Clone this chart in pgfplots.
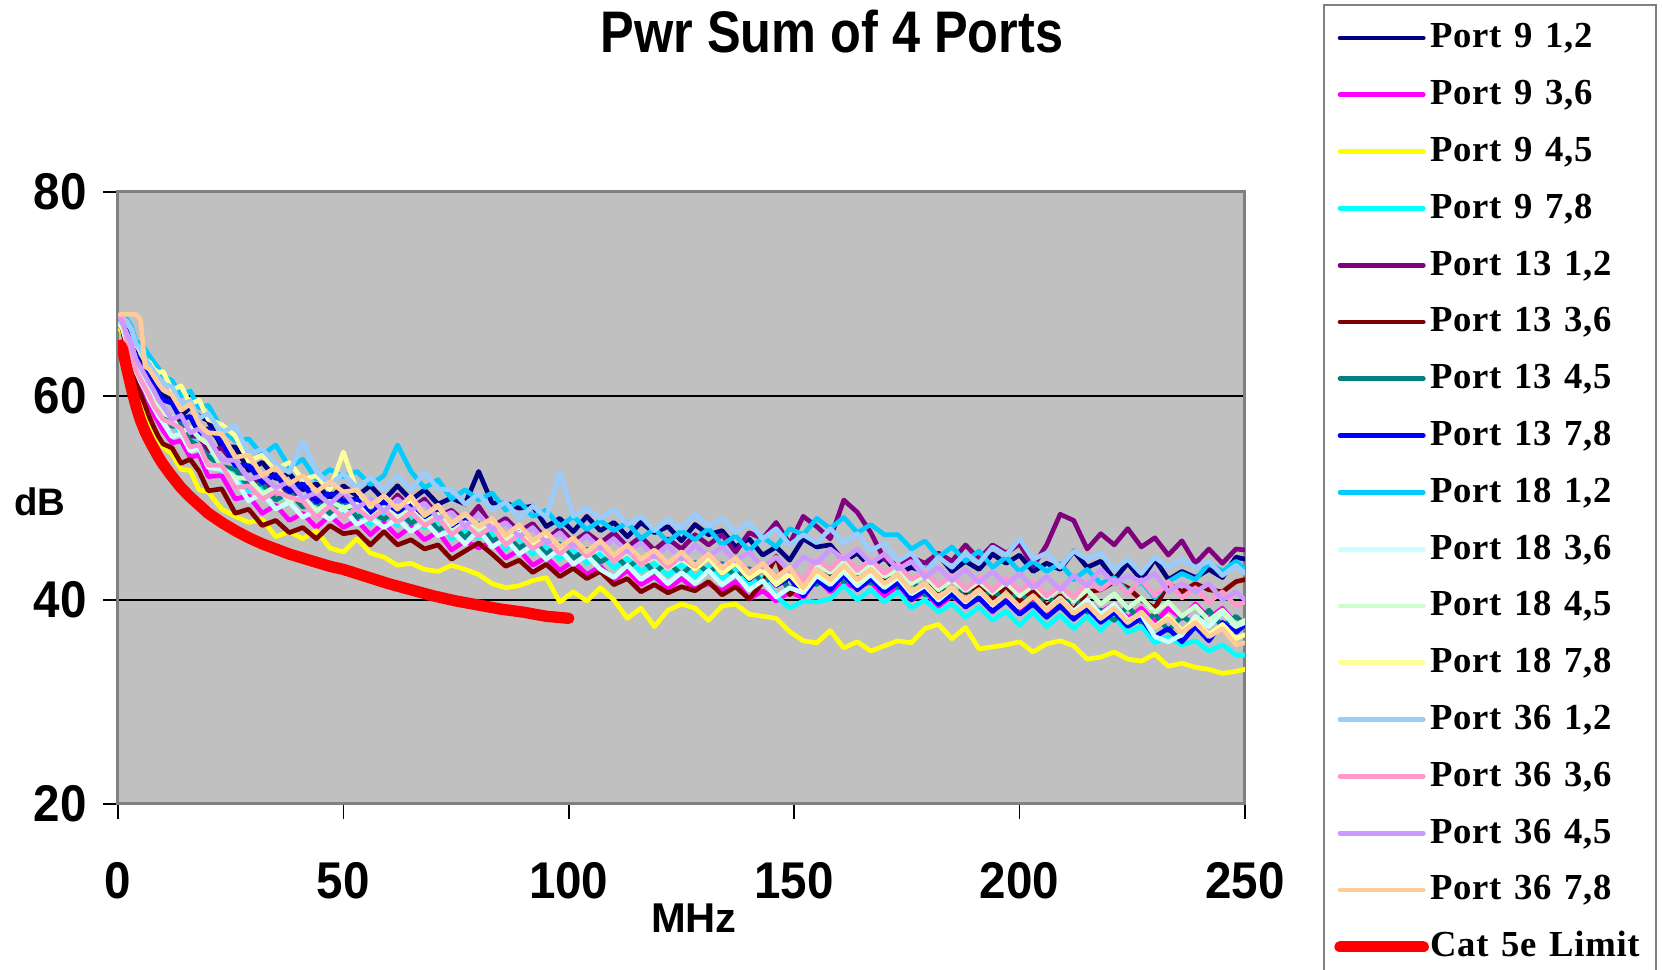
\documentclass[border=0pt]{standalone}
\usepackage{fontspec}
\usepackage{pgfplots}
\pgfplotsset{compat=1.18}
\usepackage{pgfplotstable}
\setmainfont{Liberation Sans}
\newfontfamily\axfont{Liberation Sans}[FakeStretch=0.92]
\newfontfamily\titfont{Liberation Sans}[FakeStretch=0.86]
\newfontfamily\legfont{Liberation Serif}[LetterSpace=2]
\newcommand{\gp}{\hspace{3.8pt}}
\newcommand{\legsh}{\hspace*{-0.5pt}}
\definecolor{plotgray}{HTML}{C0C0C0}
\definecolor{bordergray}{HTML}{808080}
\definecolor{sA}{HTML}{000080}
\definecolor{sB}{HTML}{FF00FF}
\definecolor{sC}{HTML}{FFFF00}
\definecolor{sD}{HTML}{00FFFF}
\definecolor{sE}{HTML}{800080}
\definecolor{sF}{HTML}{800000}
\definecolor{sG}{HTML}{008080}
\definecolor{sH}{HTML}{0000FF}
\definecolor{sI}{HTML}{00CCFF}
\definecolor{sJ}{HTML}{CCFFFF}
\definecolor{sK}{HTML}{CCFFCC}
\definecolor{sL}{HTML}{FFFF99}
\definecolor{sM}{HTML}{99CCFF}
\definecolor{sN}{HTML}{FF99CC}
\definecolor{sO}{HTML}{CC99FF}
\definecolor{sP}{HTML}{FFCC99}
\definecolor{sR}{HTML}{FF0000}

\pgfplotstableread{
x a b c d e f g h i j k l m n o p
0.5 67.5 66.8 66.5 67.1 67.2 67.0 67.2 67.4 67.9 66.9 67.2 67.8 67.8 67.7 67.5 68.0
1 67.3 66.4 66.2 66.8 67.0 66.5 66.9 67.2 67.9 66.6 66.9 67.7 67.7 67.6 67.1 68.0
2 66.5 64.8 64.2 65.5 65.9 64.1 65.7 66.3 67.5 65.1 65.7 67.2 67.3 65.4 66.1 68.0
3 65.6 63.4 62.6 64.4 64.8 62.7 64.6 65.3 66.8 63.9 64.6 66.5 66.5 64.2 65.1 68.0
4 64.0 62.0 60.8 62.8 63.2 61.2 63.1 63.9 65.3 62.4 63.0 65.0 65.1 62.5 63.6 68.0
5 63.2 61.2 59.6 62.1 62.3 60.2 62.0 63.0 65.2 61.4 62.1 64.4 64.6 61.6 62.8 67.5
6 62.6 60.0 58.6 61.3 61.7 59.1 61.4 62.4 64.6 60.6 61.5 63.6 63.7 60.8 62.0 62.9
7 61.8 59.2 57.5 60.3 60.7 57.9 60.6 61.6 63.9 59.6 60.4 63.3 63.1 60.0 61.2 62.6
8 61.1 58.1 56.6 59.2 60.2 56.9 59.8 61.0 63.3 58.8 59.7 62.6 62.4 59.0 60.5 61.9
9 60.6 57.4 55.6 58.6 59.3 56.0 59.0 60.2 62.7 58.0 58.9 62.3 61.8 58.4 59.6 61.2
10 60.0 56.6 55.0 58.1 58.8 55.3 58.5 59.6 62.0 57.4 58.3 62.4 61.2 57.7 59.0 60.6
12 59.8 55.4 54.3 57.6 57.7 54.9 57.0 59.3 61.5 56.0 57.9 60.6 60.9 57.3 57.7 60.1
14 58.0 55.6 52.8 56.1 57.6 53.4 57.3 57.7 60.0 56.3 56.4 61.0 59.2 56.8 58.1 58.6
16 58.9 54.0 52.7 56.4 56.1 53.8 55.6 58.0 60.5 54.6 56.9 59.2 59.5 55.0 56.4 59.2
18 58.0 54.2 50.8 54.6 56.0 52.6 55.1 56.3 58.8 54.9 55.9 59.6 57.8 55.2 56.8 57.2
20 57.6 52.1 50.6 54.8 54.6 50.7 54.1 56.8 59.1 53.0 55.3 57.7 58.3 53.2 55.9 56.4
23 55.0 52.2 48.9 52.6 54.9 50.9 53.1 55.5 56.8 52.8 53.0 57.2 56.4 53.2 53.7 56.3
26 55.0 49.9 48.2 52.6 53.3 48.5 52.8 53.2 55.6 51.8 52.0 56.1 57.1 51.0 53.7 54.0
29 52.7 50.2 47.6 50.7 51.4 48.9 51.1 53.2 55.8 49.7 51.9 53.6 54.3 51.2 51.8 54.2
32 53.5 48.5 47.9 51.1 51.8 47.3 51.4 51.5 54.2 50.5 50.4 54.2 54.8 49.9 52.2 52.2
35 51.9 49.3 46.2 49.8 50.5 47.8 49.8 52.3 55.2 48.9 51.1 52.8 53.3 50.6 51.0 53.0
38 52.4 47.8 46.7 50.4 50.9 46.6 50.6 50.6 53.0 49.6 49.7 53.5 52.5 50.1 51.6 51.4
41 50.8 48.5 46.0 49.8 49.4 47.1 49.1 51.4 53.8 48.1 50.2 51.8 55.5 49.7 50.0 52.2
44 51.4 47.1 46.8 48.4 50.0 46.0 49.6 49.6 51.8 48.8 48.7 52.2 52.6 48.1 50.5 50.6
47 49.9 48.3 45.1 49.4 49.0 47.3 48.5 50.5 52.8 47.9 49.7 50.8 51.3 49.2 49.4 51.6
50 51.2 47.1 44.7 48.4 50.4 46.5 49.8 49.7 52.1 49.0 49.0 54.5 52.4 48.1 50.6 50.6
53 50.2 47.8 46.0 48.8 49.0 46.7 48.1 49.9 52.6 47.4 49.4 50.7 51.0 49.0 49.0 50.8
56 51.2 46.4 44.6 47.4 49.6 45.4 48.7 48.4 51.3 48.1 48.0 49.2 52.0 47.9 49.9 49.3
59 49.8 47.6 44.2 48.6 48.8 46.7 47.9 49.6 52.2 47.1 49.1 50.2 50.8 48.9 48.7 50.2
62 51.2 46.2 43.4 47.3 50.3 45.4 48.9 48.6 55.2 48.0 48.1 49.0 52.2 47.6 49.9 48.9
65 49.8 47.2 43.6 48.4 49.0 45.9 47.5 49.6 52.6 46.7 48.8 49.8 50.8 48.6 48.8 50.2
68 50.8 45.9 43.0 47.1 49.9 45.0 48.4 48.1 51.0 47.7 47.6 48.3 52.5 47.3 49.5 48.3
71 49.4 46.7 42.8 47.8 48.2 45.4 46.9 49.0 51.8 46.3 48.4 49.2 50.9 48.1 48.0 49.3
74 50.0 44.9 43.4 46.0 48.8 44.0 47.4 47.2 49.9 46.8 46.7 47.4 50.8 46.4 48.6 47.5
77 49.4 45.8 43.0 46.9 47.6 44.8 46.1 47.9 50.8 45.5 47.6 48.4 49.4 47.4 47.2 48.5
80 52.6 45.1 42.5 46.1 49.2 45.6 47.5 47.0 49.8 46.9 46.8 47.3 50.4 46.3 48.4 47.2
83 49.5 45.7 41.6 46.6 47.2 44.5 45.8 47.6 50.5 45.2 47.3 47.8 48.8 47.2 46.9 48.0
86 49.5 44.1 41.2 45.0 48.0 43.3 46.4 46.0 48.8 46.0 45.8 46.2 49.6 45.4 47.6 46.3
89 49.0 44.9 41.4 46.0 46.7 43.9 45.1 46.9 49.7 44.5 46.6 47.2 48.0 46.4 46.2 47.4
92 49.2 43.4 41.9 44.5 47.5 42.7 45.9 45.4 48.2 45.4 45.3 45.6 49.2 45.0 47.1 45.8
95 47.2 44.2 42.2 45.4 45.9 43.5 44.5 46.2 48.8 44.0 46.0 46.4 48.1 45.9 45.6 46.7
98 48.0 42.9 39.8 44.0 47.0 42.3 45.5 44.8 47.2 45.0 44.8 45.0 52.5 44.5 46.6 45.2
101 46.7 43.8 40.8 45.0 45.7 43.1 44.1 45.8 48.2 43.5 45.5 46.0 48.2 45.6 45.2 46.1
104 48.2 42.5 39.9 43.6 46.6 42.1 45.0 44.4 46.9 44.4 44.3 44.6 49.0 44.3 46.3 44.7
107 46.8 43.3 41.2 44.6 45.6 42.8 43.7 45.5 47.8 43.0 45.1 45.6 48.0 45.3 45.0 45.8
110 47.6 41.9 40.0 43.1 46.6 41.5 44.5 44.0 46.8 42.2 43.8 44.0 48.9 43.8 46.0 44.4
113 46.2 42.9 38.2 44.1 45.2 42.1 43.2 45.0 47.6 43.4 44.7 45.0 47.4 44.9 44.7 45.4
116 47.6 41.5 39.2 42.8 46.2 40.8 44.1 43.6 46.0 42.0 43.5 43.6 48.2 43.5 45.6 44.0
119 46.6 42.3 37.4 43.6 44.9 41.5 42.7 44.5 47.0 42.9 44.2 44.5 46.8 44.4 44.2 44.9
122 47.2 41.1 39.0 42.4 46.0 40.7 43.7 43.2 45.7 41.6 43.1 43.2 47.9 43.2 45.3 43.6
125 45.8 42.1 39.6 43.5 45.0 41.3 42.5 44.3 46.8 42.7 44.0 44.3 47.0 44.3 44.0 44.7
128 47.4 41.1 39.2 42.2 46.4 40.9 43.7 43.0 45.9 41.6 43.1 43.0 48.4 43.3 45.4 43.4
131 46.4 41.6 38.0 43.3 45.4 41.8 42.7 44.1 47.0 42.9 44.2 44.1 47.2 44.6 44.3 44.5
134 46.8 40.9 39.4 42.0 46.4 40.5 43.6 42.6 45.4 41.5 43.0 42.6 48.0 43.2 45.2 43.1
137 45.2 41.8 39.6 43.0 44.7 41.3 42.3 43.6 46.3 42.5 43.8 43.6 46.6 44.2 43.8 44.1
140 46.0 40.1 38.6 41.4 46.6 40.1 43.1 42.0 44.8 41.0 42.5 42.1 47.6 42.7 44.7 42.6
143 44.4 40.9 38.4 42.2 46.0 41.7 41.7 43.0 46.2 41.9 43.2 43.0 46.0 43.6 43.2 43.6
146 45.2 39.9 38.2 40.4 47.6 44.3 42.4 41.4 45.2 40.3 41.9 41.5 47.0 42.2 44.2 42.2
149 43.9 40.8 36.9 39.2 45.5 40.5 41.1 42.2 47.0 41.2 42.6 42.5 45.4 43.2 42.8 43.2
152 46.0 40.2 36.0 39.9 48.2 42.0 42.0 40.4 46.4 40.7 41.9 41.0 46.4 41.9 44.2 41.2
155 45.2 42.2 35.8 39.8 47.2 42.8 41.5 42.0 48.0 42.4 43.5 42.8 45.6 44.0 43.6 43.0
158 45.4 40.8 37.0 40.1 46.0 42.2 42.9 41.0 47.0 41.5 42.7 41.8 47.0 43.0 45.0 42.0
161 43.8 41.6 35.3 41.4 49.8 43.2 41.8 42.5 48.1 42.8 43.9 43.2 45.6 44.4 44.0 43.4
164 44.6 41.2 35.9 40.0 48.6 42.4 42.8 41.0 46.6 41.4 42.6 41.8 46.5 42.9 45.0 42.0
167 43.2 41.8 35.0 41.0 46.6 43.3 41.6 42.1 47.4 42.5 43.5 42.9 44.8 44.0 43.6 43.0
170 44.2 40.4 35.5 39.8 44.0 41.8 42.6 40.8 46.4 41.2 42.3 41.5 45.6 42.6 44.5 41.6
173 42.6 41.4 36.0 40.8 43.4 42.2 41.2 41.7 46.4 42.2 43.0 42.4 43.8 43.5 43.0 42.5
176 43.2 40.0 35.8 39.2 44.2 40.0 41.9 40.1 45.0 40.6 41.6 40.8 44.6 42.0 43.8 40.8
179 42.8 40.8 37.2 40.0 43.6 41.5 40.5 41.0 45.8 41.4 42.4 41.6 42.8 42.8 42.2 41.6
182 44.4 39.4 37.6 38.8 44.6 40.9 41.5 39.6 44.2 40.0 41.0 40.2 44.2 41.4 43.2 40.2
185 42.8 40.4 36.2 39.6 43.8 42.3 40.3 40.6 45.2 41.1 42.0 41.2 43.2 42.4 41.9 41.2
188 43.8 39.4 37.3 38.3 45.4 40.7 41.2 39.3 43.8 39.8 40.9 39.9 44.6 41.1 43.0 39.9
191 43.0 40.2 35.2 39.3 44.0 41.5 40.0 40.2 44.8 40.9 41.8 41.0 43.6 42.2 41.7 41.0
194 44.5 38.8 35.4 38.0 45.4 40.0 41.0 38.9 43.2 39.5 40.7 39.6 45.2 40.9 42.8 39.6
197 43.6 40.4 35.6 38.9 44.6 41.4 39.8 39.9 44.2 40.6 41.7 40.6 44.4 42.2 41.5 40.6
200 44.4 39.0 35.9 37.5 45.5 39.8 40.8 38.6 42.8 39.3 40.4 39.3 46.0 40.9 42.6 39.3
203 42.8 40.0 34.9 38.8 43.3 40.8 39.4 39.6 43.8 40.4 41.5 40.4 44.0 41.8 41.2 40.4
206 43.6 38.6 35.7 37.4 45.4 39.4 40.4 38.3 42.8 39.1 40.2 39.0 44.6 40.4 42.3 39.0
209 43.0 39.6 36.0 38.5 48.4 40.4 39.2 39.4 43.6 40.2 41.2 40.1 43.2 41.4 41.0 40.1
212 44.8 38.3 35.5 37.2 47.8 39.0 40.3 38.1 42.0 38.9 39.9 38.7 44.8 40.2 42.4 38.7
215 43.2 39.8 34.2 38.4 45.0 40.8 38.8 39.2 43.0 40.0 41.0 39.6 44.0 41.8 41.4 39.6
218 43.8 38.8 34.4 37.0 46.5 41.0 39.0 37.8 41.6 38.6 39.6 38.2 44.6 41.0 43.0 38.2
221 42.0 39.6 34.9 38.4 45.4 41.8 38.0 38.8 42.2 39.6 40.6 39.2 43.0 42.0 41.6 39.2
224 43.6 38.2 34.2 36.8 47.0 41.2 39.4 37.4 40.8 38.0 39.2 37.8 44.0 40.6 42.4 37.8
227 42.0 39.2 34.0 37.4 45.2 40.0 37.8 38.2 41.8 38.6 40.2 38.8 42.6 42.0 41.8 38.8
230 44.0 37.8 34.7 35.8 46.1 39.2 38.6 36.4 40.2 36.4 38.8 37.4 44.2 40.4 42.6 37.3
233 42.0 39.2 33.5 36.4 44.4 41.6 37.0 37.2 41.8 35.9 39.8 38.4 43.2 41.8 40.8 38.2
236 42.8 38.2 33.8 35.6 45.8 40.8 38.4 35.9 42.6 36.6 38.4 37.0 44.0 40.2 41.6 36.8
239 42.2 39.6 33.4 36.0 43.6 41.6 37.6 37.4 42.0 38.4 39.4 38.0 43.2 41.2 40.8 37.8
242 43.0 38.2 33.2 35.0 45.0 41.0 39.0 36.0 43.6 37.4 38.0 36.6 43.8 39.8 41.6 36.4
245 42.2 39.2 32.8 35.6 43.6 40.8 37.4 37.8 42.8 38.8 39.0 37.6 42.4 40.8 40.0 37.2
248 44.2 37.6 33.0 34.6 45.0 41.8 38.4 36.8 43.8 37.4 37.6 36.2 43.4 39.4 40.8 35.6
250 44.0 38.0 33.2 34.6 44.9 42.0 37.6 37.6 43.0 37.8 38.0 36.6 42.6 39.8 40.0 35.8
}\ports

\pgfplotstableread{
x y
0.5 65.0
1 64.6
1.5 63.6
2 62.6
3 60.7
4 59.0
5 57.6
6 56.5
7 55.6
8 54.8
9 54.0
10 53.3
12 52.1
14 51.0
16 50.1
18 49.3
20 48.5
23 47.6
26 46.8
29 46.1
32 45.5
35 45.0
38 44.5
41 44.1
44 43.7
47 43.3
50 43.0
55 42.3
60 41.6
65 41.0
70 40.4
75 39.9
80 39.5
85 39.1
90 38.8
95 38.4
100 38.2
}\limit

\begin{document}
\begin{tikzpicture}[x=1pt,y=1pt]
\path[use as bounding box] (0,0) rectangle (498.6,291);
\draw[bordergray, line width=0.6pt, fill=white] (397.2,-5) rectangle (496.8,289.5);
\node[anchor=base] at (249.6,275.1) {\titfont\bfseries\fontsize{17.6}{20}\selectfont Pwr Sum of 4 Ports};
\begin{axis}[
  at={(35.4pt,49.8pt)}, anchor=south west,
  scale only axis, width=338.1pt, height=183.6pt,
  xmin=0, xmax=250, ymin=20, ymax=80,
  xtick={0,50,100,150,200,250}, ytick={20,40,60,80},
  ymajorgrids, grid style={black, line width=0.45pt},
  axis background/.style={fill=plotgray},
  axis line style={draw=bordergray, line width=0.9pt},
  tick pos=left, tick align=outside, major tick length=4.5pt,
  tick style={black, line width=0.45pt},
  /pgf/number format/assume math mode=true,
  tick label style={font=\axfont\bfseries\fontsize{15.5}{16}\selectfont},
  xticklabel style={anchor=center, yshift=-18.6pt, inner sep=0pt},
  yticklabel style={anchor=east, xshift=-4.7pt, inner sep=0pt},
  xlabel={MHz}, ylabel={dB},
  xlabel style={at={(axis description cs:0.511,-0.186)}, anchor=center, font=\bfseries\fontsize{12.5}{14}\selectfont, inner sep=0pt},
  ylabel style={at={(axis description cs:-0.0695,0.4935)}, anchor=center, rotate=-90, font=\bfseries\fontsize{11.5}{13}\selectfont, inner sep=0pt},
  legend style={at={(rel axis cs:1.0787,1.2854)}, anchor=north west, draw=none, fill=none,
    font=\legfont\bfseries\fontsize{11}{12}\selectfont, row sep=5.04pt, inner sep=0pt,
    nodes={text height=8.5pt, text depth=2.5pt, inner ysep=0.5pt, inner xsep=0.8pt}},
  legend cell align=left,
  legend image code/.code={\draw[#1] (0pt,0pt) -- (25pt,0pt);},
  every axis plot/.append style={line width=1.4pt, line join=round, line cap=round},
]
\addplot[sA] table[x=x,y=a] {\ports}; \addlegendentry{\legsh Port\gp 9\gp 1,2}
\addplot[sB] table[x=x,y=b] {\ports}; \addlegendentry{\legsh Port\gp 9\gp 3,6}
\addplot[sC] table[x=x,y=c] {\ports}; \addlegendentry{\legsh Port\gp 9\gp 4,5}
\addplot[sD] table[x=x,y=d] {\ports}; \addlegendentry{\legsh Port\gp 9\gp 7,8}
\addplot[sE] table[x=x,y=e] {\ports}; \addlegendentry{\legsh Port\gp 13\gp 1,2}
\addplot[sF] table[x=x,y=f] {\ports}; \addlegendentry{\legsh Port\gp 13\gp 3,6}
\addplot[sG] table[x=x,y=g] {\ports}; \addlegendentry{\legsh Port\gp 13\gp 4,5}
\addplot[sH] table[x=x,y=h] {\ports}; \addlegendentry{\legsh Port\gp 13\gp 7,8}
\addplot[sI] table[x=x,y=i] {\ports}; \addlegendentry{\legsh Port\gp 18\gp 1,2}
\addplot[sJ] table[x=x,y=j] {\ports}; \addlegendentry{\legsh Port\gp 18\gp 3,6}
\addplot[sK] table[x=x,y=k] {\ports}; \addlegendentry{\legsh Port\gp 18\gp 4,5}
\addplot[sL] table[x=x,y=l] {\ports}; \addlegendentry{\legsh Port\gp 18\gp 7,8}
\addplot[sM] table[x=x,y=m] {\ports}; \addlegendentry{\legsh Port\gp 36\gp 1,2}
\addplot[sN] table[x=x,y=n] {\ports}; \addlegendentry{\legsh Port\gp 36\gp 3,6}
\addplot[sO] table[x=x,y=o] {\ports}; \addlegendentry{\legsh Port\gp 36\gp 4,5}
\addplot[sP] table[x=x,y=p] {\ports}; \addlegendentry{\legsh Port\gp 36\gp 7,8}
\addplot[sR, line width=3.4pt] table[x=x,y=y] {\limit}; \addlegendentry{\legsh Cat\gp 5e\gp Limit}
\end{axis}
\end{tikzpicture}
\end{document}
